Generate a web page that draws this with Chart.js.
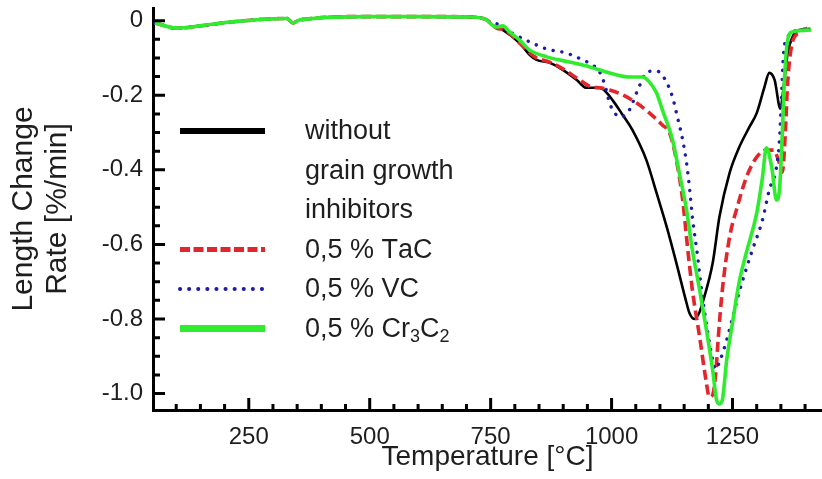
<!DOCTYPE html>
<html>
<head>
<meta charset="utf-8">
<title>Length change rate vs temperature</title>
<script src="https://cdn.jsdelivr.net/npm/chart.js@4.4.1/dist/chart.umd.min.js"></script>
<style>
    body { margin: 0; background: #ffffff; }
    #chart-wrap { width: 822px; height: 479px; }
</style>
</head>
<body>
<div id="chart-wrap"><canvas id="dilatometry-chart"></canvas></div>
<script>
// Common part of all four runs (flat region up to ~740 °C)
const baseTemps = [56, 101, 149, 217, 329, 341, 355, 494, 603, 707, 742];
const baseRates = [-0.006, -0.020, -0.014, -0.003, 0.006, -0.006, 0.002, 0.011, 0.011, 0.010, 0.002];

// Without grain growth inhibitors
const plainTemps = [754, 775, 810, 831, 845, 872, 899, 928, 948, 969, 981, 1002, 1023, 1043, 1072, 1093, 1114, 1134, 1155, 1161,
    1171, 1182, 1188, 1209, 1223, 1244, 1264, 1285, 1300, 1316, 1326, 1337, 1349, 1355, 1364, 1374, 1388, 1411];
const plainRates = [-0.012, -0.025, -0.060, -0.092, -0.105, -0.113, -0.132, -0.159, -0.180, -0.180, -0.183, -0.213, -0.253, -0.293, -0.374, -0.462, -0.553, -0.650, -0.757, -0.784,
    -0.800, -0.781, -0.757, -0.650, -0.526, -0.408, -0.339, -0.285, -0.248, -0.178, -0.140, -0.159, -0.236, -0.186, -0.087, -0.044, -0.025, -0.022];

// 0,5 % TaC
const tacTemps = [748, 762, 779, 810, 841, 872, 903, 934, 959, 975, 996, 1023, 1052, 1078, 1105, 1120, 1134, 1147, 1157, 1167,
    1182, 1196, 1202, 1209, 1215, 1221, 1229, 1244, 1258, 1279, 1300, 1320, 1335, 1345, 1353, 1359, 1364, 1374, 1388, 1405];
const tacRates = [-0.004, -0.020, -0.025, -0.060, -0.097, -0.111, -0.132, -0.159, -0.178, -0.180, -0.186, -0.199, -0.221, -0.247, -0.280, -0.301, -0.374, -0.481, -0.607, -0.722,
    -0.848, -0.971, -1.009, -1.003, -0.950, -0.843, -0.722, -0.580, -0.508, -0.419, -0.366, -0.347, -0.347, -0.374, -0.406, -0.306, -0.167, -0.057, -0.033, -0.020];

// 0,5 % VC
const vcTemps = [748, 758, 789, 831, 866, 907, 940, 961, 975, 986, 996, 1006, 1019, 1037, 1054, 1074, 1093, 1109, 1126, 1136,
    1147, 1155, 1161, 1167, 1178, 1188, 1198, 1209, 1215, 1223, 1238, 1250, 1264, 1279, 1291, 1312, 1326, 1341, 1347, 1351,
    1355, 1364, 1388, 1409];
const vcRates = [-0.004, -0.006, -0.030, -0.057, -0.076, -0.087, -0.105, -0.119, -0.137, -0.172, -0.221, -0.247, -0.258, -0.239, -0.186, -0.137, -0.135, -0.154, -0.205, -0.258,
    -0.320, -0.382, -0.446, -0.526, -0.634, -0.741, -0.829, -0.910, -0.935, -0.915, -0.856, -0.797, -0.727, -0.663, -0.615, -0.534, -0.454, -0.392, -0.320, -0.213,
    -0.097, -0.044, -0.025, -0.022];

// 0,5 % Cr3C2
const crTemps = [748, 762, 775, 789, 810, 831, 866, 913, 955, 996, 1037, 1064, 1078, 1093, 1105, 1126, 1140, 1155, 1167, 1182,
    1196, 1209, 1217, 1223, 1229, 1238, 1250, 1264, 1279, 1300, 1312, 1320, 1331, 1341, 1347, 1353, 1357, 1364, 1374, 1413];
const crRates = [-0.006, -0.017, -0.014, -0.030, -0.052, -0.079, -0.097, -0.111, -0.124, -0.140, -0.151, -0.151, -0.164, -0.194, -0.239, -0.320, -0.408, -0.508, -0.615, -0.722,
    -0.829, -0.937, -1.017, -1.028, -1.017, -0.910, -0.810, -0.700, -0.620, -0.516, -0.419, -0.341, -0.392, -0.481, -0.454, -0.301, -0.167, -0.052, -0.030, -0.025];

const seriesLabels = ['without\ngrain growth\ninhibitors', '0,5 % TaC', '0,5 % VC', '0,5 % Cr3C2'];

// Axis ticks
const xTicks = [250, 500, 750, 1000, 1250];
const xTickLabels = ['250', '500', '750', '1000', '1250'];
const yTicks = [0, -0.2, -0.4, -0.6, -0.8, -1.0];
const yTickLabels = ['0', '-0.2', '-0.4', '-0.6', '-0.8', '-1.0'];

const FONT = '"Liberation Sans", Arial, Helvetica, sans-serif';
const TEXT_COLOR = '#1e1e1e';

// Join the shared low-temperature part with a run's own points
function toPoints(temps, rates) {
    const allT = baseTemps.concat(temps);
    const allR = baseRates.concat(rates);
    return allT.map((t, i) => ({ x: t, y: allR[i] }));
}

// Inward tick marks (major + minor) on both axes
const innerTicks = {
    id: 'innerTicks',
    afterDraw(chart) {
        const { ctx, chartArea, scales } = chart;
        const xs = scales.x, ys = scales.y;
        ctx.save();
        ctx.strokeStyle = '#000';
        ctx.lineWidth = 3;
        ctx.beginPath();
        for (let t = 100; t <= 1400; t += 50) {
            const px = xs.getPixelForValue(t);
            const len = (t % 250 === 0) ? 12 : 6;
            ctx.moveTo(px, chartArea.bottom);
            ctx.lineTo(px, chartArea.bottom - len);
        }
        for (let k = 0; k <= 20; k++) {
            const py = ys.getPixelForValue(-k * 0.05);
            const len = (k % 4 === 0) ? 12 : 7;
            ctx.moveTo(chartArea.left, py);
            ctx.lineTo(chartArea.left + len, py);
        }
        ctx.stroke();
        ctx.restore();
    }
};

// Draws a label, lowering digits that follow a letter (chemical formulas)
function drawFormula(ctx, text, x, y, size) {
    let cx = x;
    for (let i = 0; i < text.length; i++) {
        const ch = text[i];
        const isSub = /[0-9]/.test(ch) && i > 0 && /[A-Za-z]/.test(text[i - 1]);
        ctx.font = (isSub ? Math.round(size * 0.68) : size) + 'px ' + FONT;
        ctx.fillText(ch, cx, isSub ? y + 8 : y);
        cx += ctx.measureText(ch).width;
    }
}

// Legend inside the plot: line sample on the left, text to the right
const plotLegend = {
    id: 'plotLegend',
    afterDraw(chart) {
        const { ctx } = chart;
        const sampleX0 = 180, sampleX1 = 265, textX = 305;
        const rowStep = 39.5;
        let rowY = 131;
        ctx.save();
        ctx.textBaseline = 'middle';
        ctx.textAlign = 'left';
        chart.data.datasets.forEach(ds => {
            ctx.beginPath();
            ctx.strokeStyle = ds.borderColor;
            ctx.lineWidth = ds.legendWidth;
            ctx.lineCap = ds.borderCapStyle || 'butt';
            ctx.setLineDash(ds.legendDash || []);
            ctx.moveTo(sampleX0, rowY);
            ctx.lineTo(sampleX1, rowY);
            ctx.stroke();

            ctx.fillStyle = TEXT_COLOR;
            ds.label.split('\n').forEach(line => {
                drawFormula(ctx, line, textX, rowY + 1, 27);
                rowY += rowStep;
            });
        });
        ctx.restore();
    }
};

const ctx = document.getElementById('dilatometry-chart').getContext('2d');

new Chart(ctx, {
    type: 'line',
    data: {
        datasets: [
            {
                label: seriesLabels[0],
                data: toPoints(plainTemps, plainRates),
                borderColor: '#000000',
                borderWidth: 2.6,
                legendWidth: 6,
                order: 4
            },
            {
                label: seriesLabels[1],
                data: toPoints(tacTemps, tacRates),
                borderColor: '#e3262b',
                borderWidth: 3.6,
                borderDash: [10, 5],
                legendWidth: 5,
                legendDash: [10, 3.5],
                order: 3
            },
            {
                label: seriesLabels[2],
                data: toPoints(vcTemps, vcRates),
                borderColor: '#1c1ca6',
                borderWidth: 3.4,
                borderDash: [0.1, 8.8],
                borderCapStyle: 'round',
                legendWidth: 4,
                legendDash: [0.1, 9],
                order: 2
            },
            {
                label: seriesLabels[3],
                data: toPoints(crTemps, crRates),
                borderColor: '#2fec2f',
                borderWidth: 3.6,
                legendWidth: 7,
                order: 1
            }
        ]
    },
    options: {
        responsive: true,
        maintainAspectRatio: false,
        animation: false,
        layout: {
            padding: { top: 8, left: 0, right: 0, bottom: 0 }
        },
        elements: {
            point: { radius: 0 },
            line: { cubicInterpolationMode: 'monotone', fill: false }
        },
        plugins: {
            legend: { display: false },
            tooltip: { enabled: false }
        },
        scales: {
            x: {
                type: 'linear',
                min: 52,
                max: 1435,
                afterBuildTicks: axis => { axis.ticks = xTicks.map(v => ({ value: v })); },
                afterFit: axis => {
                    axis.height = 69;
                    axis.paddingLeft = 0;
                    axis.paddingRight = 0;
                },
                grid: { display: false, drawTicks: false },
                border: { display: true, color: '#000', width: 3 },
                ticks: {
                    padding: 13,
                    color: TEXT_COLOR,
                    font: { family: FONT, size: 24 },
                    maxRotation: 0,
                    callback: (value, index) => xTickLabels[index]
                },
                title: {
                    display: true,
                    text: 'Temperature [°C]',
                    color: TEXT_COLOR,
                    font: { family: FONT, size: 28 },
                    padding: { top: 0, bottom: 5 }
                }
            },
            y: {
                type: 'linear',
                min: -1.044,
                max: 0.034,
                afterBuildTicks: axis => { axis.ticks = yTicks.map(v => ({ value: v })); },
                afterFit: axis => {
                    // labels sit well inside the range, no extra room needed
                    axis.width = 153;
                    axis.paddingTop = 0;
                    axis.paddingBottom = 0;
                },
                grid: { display: false, drawTicks: false },
                border: { display: true, color: '#000', width: 3 },
                ticks: {
                    padding: 10,
                    color: TEXT_COLOR,
                    font: { family: FONT, size: 24 },
                    callback: (value, index) => yTickLabels[index]
                },
                title: {
                    display: true,
                    text: ['Length Change', 'Rate [%/min]'],
                    color: TEXT_COLOR,
                    font: { family: FONT, size: 30, lineHeight: 1.15 },
                    padding: { top: 6, bottom: 0 }
                }
            }
        }
    },
    plugins: [innerTicks, plotLegend]
});
</script>
</body>
</html>
